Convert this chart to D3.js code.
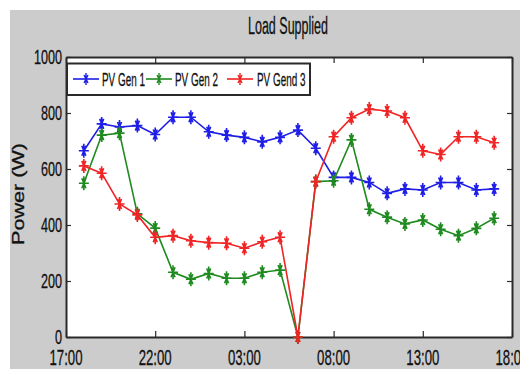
<!DOCTYPE html>
<html><head><meta charset="utf-8">
<script src="https://cdn.jsdelivr.net/npm/d3@7"></script>
<style>html,body{margin:0;padding:0;background:#fff;}svg{display:block;}</style>
</head><body>
<script>
// Data (hour of day, continuing past midnight as 24+)
const hours = [18,19,20,21,22,23,24,25,26,27,28,29,30,31,32,33,34,35,36,37,38,39,40,41];
const gen1 = [665,761,750,755,723,785,785,733,721,713,697,713,739,674,570,570,552,513,529,525,552,552,525,529];
const gen2 = [549,721,728,440,389,231,206,227,210,210,231,239,0,555,558,704,456,428,404,418,385,362,388,424];
const gen3 = [611,585,475,436,356,362,344,337,335,317,340,356,0,555,715,783,814,807,783,665,652,715,715,694];
const seriesNames = ["PV Gen 1","PV Gen 2","PV Gend 3"];
const xTickValues = [17,22,27,32,37,42];
const xTickLabels = ["17:00","22:00","03:00","08:00","13:00","18:00"];
const yTickValues = [0,200,400,600,800,1000];
const title = "Load Supplied";
const yLabel = "Power (W)";

const W = 520, H = 369;
const colors = ["#1e1ee6","#1f8a1f","#f02424"];
const svg = d3.select("body").append("svg").attr("width", W).attr("height", H);
svg.append("rect").attr("x",10).attr("y",10).attr("width",W-10).attr("height",H-10).attr("fill","#cccccc");

const L = 66, R = 512, T = 57, B = 337;
const x = d3.scaleLinear().domain([17,42]).range([L,R]);
const y = d3.scaleLinear().domain([0,1000]).range([B,T]);

svg.append("rect").attr("x",L).attr("y",T).attr("width",R-L).attr("height",B-T).attr("fill","#fff");

const font = "Arial, 'Liberation Sans', sans-serif";
function sText(px, py, str, size, sx, anchor){
  const g = svg.append("g").attr("transform",`translate(${px},${py}) scale(${sx},1)`);
  g.append("text").attr("x",0).attr("y",0).attr("font-family",font).attr("font-size",size)
   .attr("text-anchor",anchor||"start").attr("fill","#111").attr("stroke","#111").attr("stroke-width",0.3).text(str);
  return g;
}

const axB = svg.append("g").attr("transform",`translate(0,${B})`)
  .call(d3.axisBottom(x).tickValues(xTickValues).tickSizeInner(-6).tickSizeOuter(0).tickFormat(""));
const axT = svg.append("g").attr("transform",`translate(0,${T})`)
  .call(d3.axisTop(x).tickValues(xTickValues).tickSizeInner(-6).tickSizeOuter(0).tickFormat(""));
const axL = svg.append("g").attr("transform",`translate(${L},0)`)
  .call(d3.axisLeft(y).tickValues(yTickValues).tickSizeInner(-5).tickSizeOuter(0).tickFormat(""));
const axR = svg.append("g").attr("transform",`translate(${R},0)`)
  .call(d3.axisRight(y).tickValues(yTickValues).tickSizeInner(-5).tickSizeOuter(0).tickFormat(""));
[axB,axT,axL,axR].forEach(a=>{
  a.select(".domain").attr("stroke","#2a2a2a").attr("stroke-width",2);
  a.selectAll(".tick line").attr("stroke","#2a2a2a").attr("stroke-width",1.2);
});

xTickValues.forEach((v,i)=> sText(x(v), 365, xTickLabels[i], 22, 0.6, "middle"));
yTickValues.forEach(v=> sText(L-4, y(v)+7, String(v), 21, 0.6, "end"));

svg.append("text").attr("x",288).attr("y",34).attr("text-anchor","middle")
  .attr("font-family",font).attr("font-size",23).attr("fill","#111").attr("stroke","#111").attr("stroke-width",0.3)
  .attr("textLength",80).attr("lengthAdjust","spacingAndGlyphs").text(title);
svg.append("text").attr("transform","translate(24,194) rotate(-90)").attr("text-anchor","middle")
  .attr("font-family",font).attr("font-size",16).attr("fill","#111").attr("stroke","#111").attr("stroke-width",0.3)
  .attr("textLength",102).attr("lengthAdjust","spacingAndGlyphs").text(yLabel);

const markerPath = "M0,-7V7M-5,0H5M-2,-5L2,5M-2,5L2,-5";
const data = [gen1,gen2,gen3];
const line = d3.line().x((d,i)=>x(hours[i])).y(d=>y(d));
data.forEach((s,k)=>{
  const g = svg.append("g");
  g.append("path").datum(s).attr("d",line).attr("fill","none").attr("stroke",colors[k]).attr("stroke-width",1.6);
  g.selectAll("path.m").data(s).enter().append("path").attr("class","m")
   .attr("transform",(d,i)=>`translate(${x(hours[i])},${y(d)})`)
   .attr("d",markerPath).attr("stroke",colors[k]).attr("stroke-width",1.6).attr("fill","none");
});

svg.append("rect").attr("x",67).attr("y",63.5).attr("width",243).attr("height",31.5)
  .attr("fill","#fff").attr("stroke","#2a2a2a").attr("stroke-width",2);
const legLine = [[73,99,102],[146,172,175],[227,253,257]];
legLine.forEach((p,k)=>{
  const ly = 79;
  svg.append("line").attr("x1",p[0]).attr("x2",p[1]).attr("y1",ly).attr("y2",ly)
    .attr("stroke",colors[k]).attr("stroke-width",1.6);
  svg.append("path").attr("transform",`translate(${(p[0]+p[1])/2},${ly})`).attr("d","M0,-6V6M-2,-4L2,4M-2,4L2,-4")
    .attr("stroke",colors[k]).attr("stroke-width",1.4).attr("fill","none");
  sText(p[2], 86, seriesNames[k], 18, 0.55, "start");
});
</script>
</body></html>
